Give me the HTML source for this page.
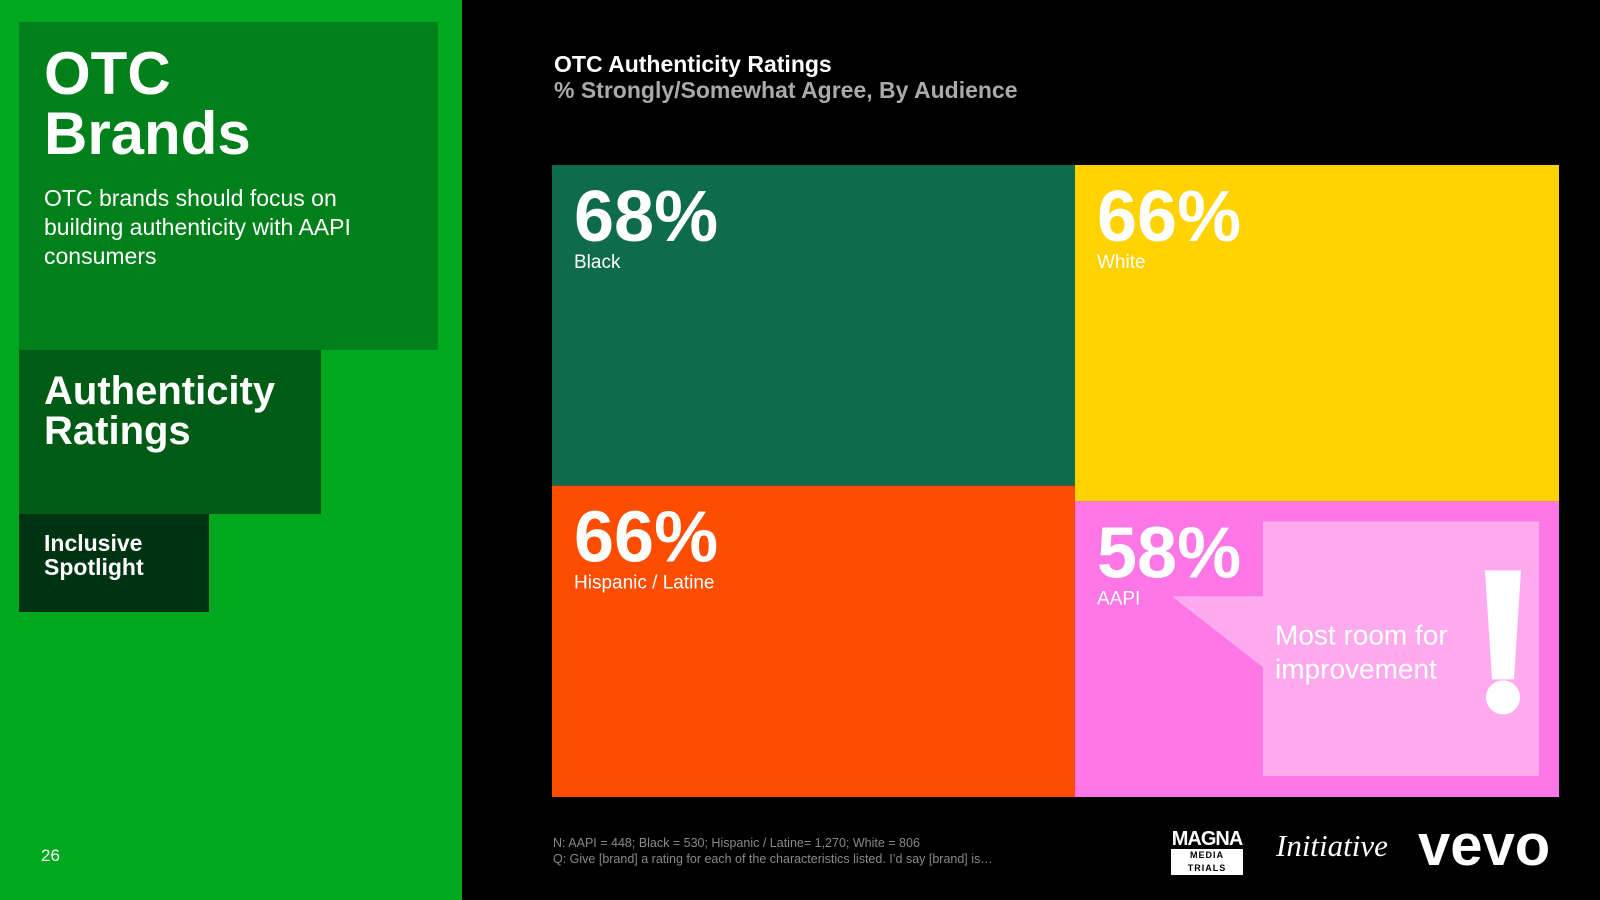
<!DOCTYPE html>
<html><head><meta charset="utf-8"><style>
*{margin:0;padding:0;box-sizing:border-box}
body{width:1600px;height:900px;background:#000;position:relative;overflow:hidden;font-family:"Liberation Sans",sans-serif;color:#fff}
.abs{position:absolute}
</style></head><body>
<div class="abs" style="left:0;top:0;width:462px;height:900px;background:#00a81f"></div>
<div class="abs" style="left:19px;top:22px;width:419px;height:328px;background:#00801a"></div>
<div class="abs" style="left:19px;top:350px;width:302px;height:164px;background:#005c14"></div>
<div class="abs" style="left:19px;top:514px;width:190px;height:98px;background:#003312"></div>
<div class="abs" style="left:44px;top:44px;font-size:60px;font-weight:bold;line-height:60px">OTC<br>Brands</div>
<div class="abs" style="left:44px;top:184px;font-size:23px;line-height:29px;width:345px">OTC brands should focus on building authenticity with AAPI consumers</div>
<div class="abs" style="left:44px;top:371px;font-size:40px;font-weight:bold;line-height:40px">Authenticity<br>Ratings</div>
<div class="abs" style="left:44px;top:531px;font-size:23px;font-weight:bold;line-height:24px">Inclusive<br>Spotlight</div>
<div class="abs" style="left:41px;top:846px;font-size:17px">26</div>

<div class="abs" style="left:554px;top:51px;font-size:23px;font-weight:bold">OTC Authenticity Ratings</div>
<div class="abs" style="left:554px;top:77px;font-size:23px;font-weight:bold;color:#aaa">% Strongly/Somewhat Agree, By Audience</div>

<svg class="abs" id="chart" style="left:0;top:0" width="1600" height="900"></svg>

<div class="abs" style="left:553px;top:835px;font-size:12.5px;line-height:16px;color:#888">N: AAPI = 448; Black = 530; Hispanic / Latine= 1,270; White = 806<br>Q: Give [brand] a rating for each of the characteristics listed. I’d say [brand] is…</div>
<div class="abs" style="left:1171px;top:829px;width:72px;text-align:center;font-weight:bold;font-size:20px;line-height:20px;letter-spacing:-1px">MAGNA<div style="background:#fff;color:#000;font-size:9px;line-height:13px;letter-spacing:1px">MEDIA TRIALS</div></div>
<div class="abs" style="left:1276px;top:828px;font-family:'Liberation Serif',serif;font-style:italic;font-size:31px">Initiative</div>
<div class="abs" style="left:1418px;top:812px;font-size:58px;font-weight:bold;letter-spacing:0px">vevo</div>

<script>
const categories=["Black","Hispanic / Latine","White","AAPI"];
const values=[68,66,66,58];
const labels=["68%","66%","66%","58%"];
const colors=["#0e6b4c","#ff4d00","#ffd200","#ff77e6"];
const svg=document.getElementById('chart');
const NS='http://www.w3.org/2000/svg';
const X0=552,X1=1559,Y0=165,Y1=797;
const cols=[[0,1],[2,3]];
const total=values.reduce((a,b)=>a+b,0);
let cx=X0;
function add(tag,attrs,parent){const e=document.createElementNS(NS,tag);for(const k in attrs)e.setAttribute(k,attrs[k]);(parent||svg).appendChild(e);return e;}
const rects=[];
cols.forEach(col=>{
  const sum=col.reduce((s,i)=>s+values[i],0);
  const w=(X1-X0)*sum/total;
  let cy=Y0;
  col.forEach(i=>{
    const h=(Y1-Y0)*values[i]/sum;
    const r=add('rect',{x:cx,y:cy,width:w,height:h,fill:colors[i]});
    
    
    rects[i]={x:cx,y:cy,w:w,h:h};
    cy+=h;
  });
  cx+=w;
});
const a=rects[3];
const bx=a.x+188,by=a.y+20,bw=a.w-208,bh=a.h-41;
const cb=add('rect',{x:bx,y:by,width:bw,height:bh,fill:"#ffaaee"});


const tri=add('polygon',{points:`${a.x+97},${a.y+95} ${bx},${a.y+95} ${bx},${a.y+166}`,fill:"#ffaaee"});


const ct=add('text',{x:bx+12,y:a.y+143,fill:"#fff","font-size":28,"font-family":"Liberation Sans, sans-serif"});


ct.innerHTML=`<tspan x="${bx+12}">Most room for</tspan><tspan x="${bx+12}" dy="34">improvement</tspan>`;
const ex=a.x+a.w-56;
const exb=add('polygon',{points:`${ex-18},${a.y+69} ${ex+18},${a.y+69} ${ex+11},${a.y+178} ${ex-11},${a.y+178}`,fill:"#fff"});


const exd=add('circle',{cx:ex,cy:a.y+196,r:17,fill:"#fff"});


categories.forEach((c,i)=>{
  const r=rects[i];
  const dx=22;
  const v=add('text',{x:r.x+dx,y:r.y+76,fill:"#fff","font-size":72,"font-weight":"bold","font-family":"Liberation Sans, sans-serif","letter-spacing":0});
  
  
  v.textContent=labels[i];
  const t=add('text',{x:r.x+dx,y:r.y+103,fill:"#fff","font-size":19,"font-family":"Liberation Sans, sans-serif"});
  
  
  t.textContent=c;
});
</script>
</body></html>
